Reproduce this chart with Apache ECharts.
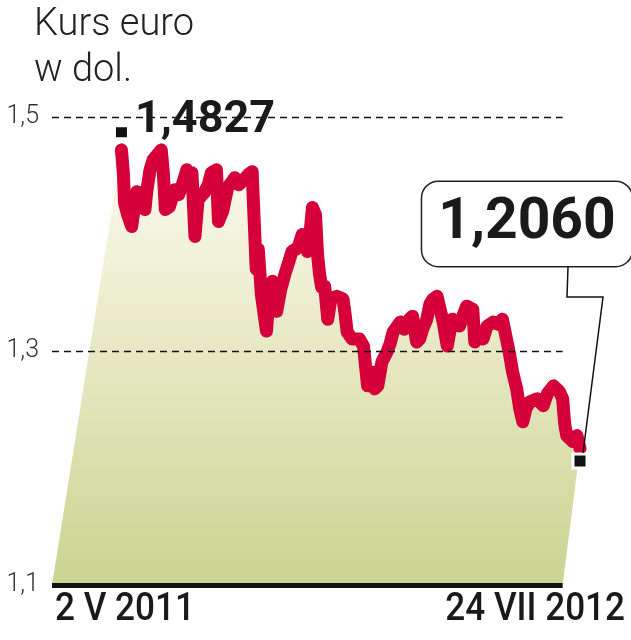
<!DOCTYPE html>
<html>
<head>
<meta charset="utf-8">
<script src="https://cdn.jsdelivr.net/npm/echarts@6/dist/echarts.min.js"></script>
<style>
  html, body { margin: 0; padding: 0; background: #fff; }
  #chart { width: 631px; height: 640px; }
</style>
</head>
<body>
<div id="chart"></div>
<script>
// days counted from 2 V 2011
var days = [0, 2, 3, 6, 10, 13, 15, 18, 20, 23, 25, 28, 31, 35, 39, 41, 43, 47, 52, 56,
  59, 64, 67, 69, 72, 75, 81, 85, 88, 93, 95, 99, 104, 111, 115, 118, 124, 128, 130, 132,
  134, 137, 139, 142, 145, 148, 150, 152, 156, 160, 164, 167, 173, 177, 182, 185, 187, 190, 192, 194,
  196, 199, 202, 205, 211, 217, 219, 221, 226, 233, 237, 241, 245, 248, 251, 255, 260, 263, 266, 273,
  277, 282, 285, 289, 292, 295, 299, 302, 305, 309, 312, 315, 319, 322, 324, 331, 335, 338, 344, 346,
  350, 354, 358, 364, 369, 373, 377, 380, 383, 387, 390, 393, 396, 400, 407, 413, 417, 423, 426, 429,
  432, 434, 436, 442, 446, 449];
var rates = [1.4719, 1.4506, 1.4268, 1.4166, 1.4064, 1.4251, 1.4362, 1.4311, 1.4294, 1.4209,
  1.4379, 1.4549, 1.4634, 1.4677, 1.4719, 1.4523, 1.4209, 1.4234, 1.4379, 1.4336,
  1.4404, 1.4549, 1.4506, 1.4523, 1.3979, 1.4294, 1.4353, 1.4421, 1.4523, 1.4549,
  1.4106, 1.4191, 1.4396, 1.4481, 1.4421, 1.4447, 1.4506, 1.4532, 1.4106, 1.3698,
  1.3868, 1.3485, 1.3357, 1.3170, 1.3528, 1.3596, 1.3570, 1.3340, 1.3528, 1.3655,
  1.3766, 1.3851, 1.3885, 1.3996, 1.3851, 1.4038, 1.4226, 1.4166, 1.3826, 1.3655,
  1.3545, 1.3553, 1.3272, 1.3443, 1.3468, 1.3443, 1.3315, 1.3162, 1.3102, 1.3102,
  1.3043, 1.2702, 1.2821, 1.2677, 1.2702, 1.2906, 1.2991, 1.3060, 1.3162, 1.3247,
  1.3187, 1.3272, 1.3298, 1.3077, 1.3102, 1.3187, 1.3272, 1.3400, 1.3443, 1.3468,
  1.3357, 1.3247, 1.3043, 1.3187, 1.3272, 1.3213, 1.3315, 1.3383, 1.3357, 1.3077,
  1.3145, 1.3102, 1.3213, 1.3247, 1.3230, 1.3272, 1.3102, 1.2974, 1.2821, 1.2677,
  1.2506, 1.2396, 1.2506, 1.2566, 1.2591, 1.2532, 1.2634, 1.2702, 1.2677, 1.2651,
  1.2591, 1.2379, 1.2277, 1.2226, 1.2277, 1.2166];
var yTicks = [1.1, 1.3, 1.5];
var yTickLabels = ['1,1', '1,3', '1,5'];
var dateLabels = ['2 V 2011', '24 VII 2012'];
var firstValue = 1.4827;
var lastValue = 1.2060;
var firstLabel = '1,4827';
var lastLabel = '1,2060';
var sourceText = 'źródło: Reuters';

var xMin = -68, xMax = 449, plotEnd = 432;
var yMin = 1.1, yMax = 1.5;
var lastDay = days[days.length - 1];

var chart = echarts.init(document.getElementById('chart'));

var lineData = [];
for (var i = 0; i < days.length; i++) {
  lineData.push([days[i], rates[i]]);
}

var option = {
  animation: false,
  title: {
    text: 'Kurs euro\nw dol.',
    left: 34,
    top: 2,
    padding: 0,
    textStyle: {
      fontFamily: 'Roboto',
      fontWeight: 300,
      fontSize: 38,
      lineHeight: 46,
      color: '#222'
    }
  },
  grid: { left: 52, right: 51, top: 117, bottom: 55 },
  xAxis: {
    type: 'value',
    min: xMin,
    max: xMax,
    axisLine: { show: false },
    axisTick: { show: false },
    axisLabel: { show: false },
    splitLine: { show: false }
  },
  yAxis: {
    type: 'value',
    min: yMin,
    max: yMax,
    axisLine: { show: false },
    axisTick: { show: false },
    splitLine: { show: false },
    axisLabel: {
      customValues: yTicks,
      margin: 13,
      fontFamily: 'Roboto',
      fontWeight: 300,
      fontSize: 25,
      color: '#333',
      formatter: function (v) {
        var k = yTicks.indexOf(Math.round(v * 10) / 10);
        return k >= 0 ? yTickLabels[k] : '';
      }
    }
  },
  series: [
    {
      type: 'custom',
      z: 1,
      silent: true,
      data: [[days[0], rates[0]]],
      renderItem: function (params, api) {
        var pts = [];
        for (var j = 0; j < days.length; j++) {
          pts.push(api.coord([days[j], rates[j]]));
        }
        pts.push(api.coord([plotEnd, yMin]));
        pts.push(api.coord([xMin, yMin]));
        return {
          type: 'polygon',
          shape: { points: pts },
          style: {
            fill: new echarts.graphic.LinearGradient(0, 0, 0, 1, [
              { offset: 0, color: '#fcfbf1' },
              { offset: 0.45, color: '#e8e9c4' },
              { offset: 1, color: '#cbd391' }
            ])
          }
        };
      },
      markLine: {
        silent: true,
        symbol: 'none',
        label: { show: false },
        lineStyle: { color: '#111', type: [7, 5], width: 1.3 },
        data: [
          [{ coord: [xMin, yTicks[1]] }, { coord: [plotEnd, yTicks[1]] }],
          [{ coord: [xMin, yTicks[2]] }, { coord: [plotEnd, yTicks[2]] }],
          [
            { coord: [xMin, yTicks[0]], lineStyle: { type: 'solid', width: 5, color: '#111' } },
            { coord: [plotEnd, yTicks[0]] }
          ]
        ]
      }
    },
    {
      type: 'line',
      z: 3,
      data: lineData,
      showSymbol: false,
      clip: false,
      silent: true,
      lineStyle: { color: '#d5003a', width: 13, cap: 'round', join: 'round' },
      markPoint: {
        silent: true,
        data: [
          {
            coord: [0, firstValue],
            symbol: 'rect',
            symbolSize: [11, 10],
            symbolOffset: [0, -5],
            itemStyle: { color: '#111' },
            label: {
              show: true,
              position: 'right',
              distance: 8,
              offset: [0, -11],
              formatter: firstLabel,
              fontFamily: 'Roboto',
              fontWeight: 'bold',
              fontSize: 45,
              color: '#1a1a1a'
            }
          },
          {
            coord: [lastDay, lastValue],
            symbol: 'rect',
            symbolSize: [14, 14],
            itemStyle: { color: '#111', borderColor: '#fff', borderWidth: 3 },
            label: {
              show: true,
              position: 'inside',
              offset: [-53, -237],
              formatter: lastLabel,
              fontFamily: 'Roboto',
              fontWeight: 'bold',
              fontSize: 57,
              lineHeight: 62,
              color: '#1a1a1a',
              backgroundColor: '#fff',
              borderColor: '#222',
              borderWidth: 1.5,
              borderRadius: 16,
              padding: [11, 16, 11, 16]
            }
          }
        ]
      }
    }
  ]
};
chart.setOption(option);

var endPt = chart.convertToPixel({ gridIndex: 0 }, [lastDay, lastValue]);
var gl = chart.convertToPixel({ gridIndex: 0 }, [xMin, yMin]);
var gr = chart.convertToPixel({ gridIndex: 0 }, [plotEnd, yMin]);

chart.setOption({
  graphic: [
    {
      type: 'polyline',
      z: 10,
      shape: {
        points: [
          [endPt[0] - 12, endPt[1] - 194],
          [endPt[0] - 13, endPt[1] - 164],
          [endPt[0] + 23, endPt[1] - 164],
          [endPt[0] + 3, endPt[1] - 8]
        ]
      },
      style: { stroke: '#111', lineWidth: 1.5, fill: null }
    },
    {
      type: 'text',
      x: gl[0] + 3,
      y: gl[1] + 45,
      scaleX: 0.9,
      style: { text: dateLabels[0], font: '500 39px Roboto', fill: '#1a1a1a', textAlign: 'left', textVerticalAlign: 'bottom' }
    },
    {
      type: 'text',
      x: 625,
      y: gl[1] + 45,
      scaleX: 0.9,
      style: { text: dateLabels[1], font: '500 39px Roboto', fill: '#1a1a1a', textAlign: 'right', textVerticalAlign: 'bottom' }
    },
    {
      type: 'text',
      x: gr[0] - 18,
      y: gl[1] - 2,
      scaleX: 0.9,
      style: { text: sourceText, font: '30px Roboto', fill: '#222', textAlign: 'right', textVerticalAlign: 'bottom' }
    }
  ]
});
</script>
</body>
</html>
